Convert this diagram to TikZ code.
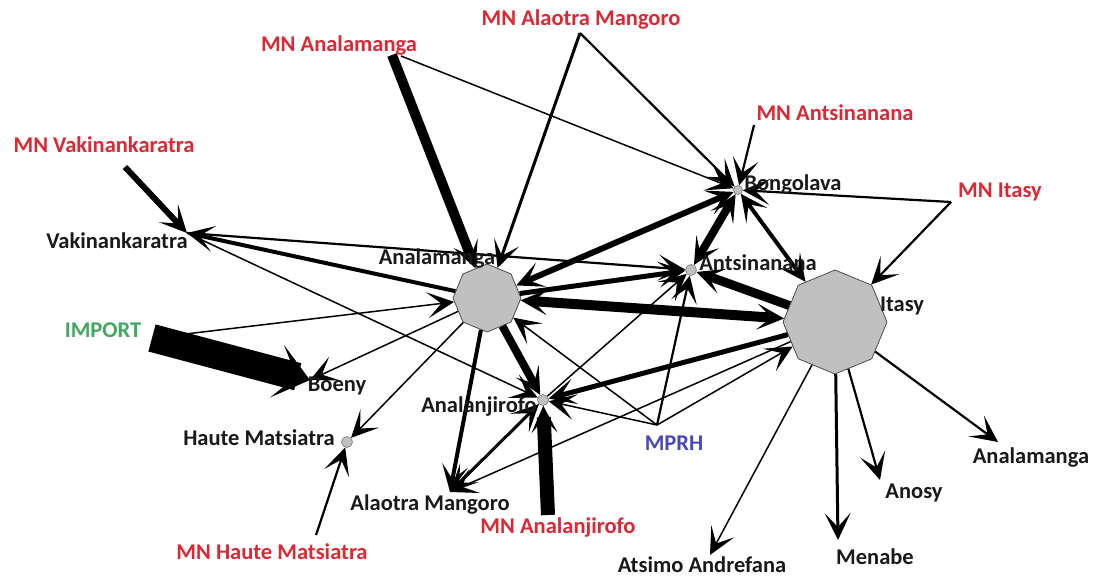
\documentclass[tikz,border=0pt]{standalone}
\usepackage{fontspec}
\setmainfont{Carlito}
\usetikzlibrary{arrows.meta,shapes.geometric}
\definecolor{mnred}{RGB}{221,40,52}
\definecolor{impgreen}{RGB}{64,168,96}
\definecolor{mprhblue}{RGB}{72,72,190}
\definecolor{nodegray}{RGB}{192,192,192}
\definecolor{txt}{RGB}{25,25,25}
\begin{document}
\begin{tikzpicture}[x=1pt,y=-1pt,
  lbl/.style={font=\fontsize{22.5}{26}\selectfont\bfseries, inner sep=0pt, text=txt},
  srclbl/.style={lbl, text=mnred},
  bignode/.style={regular polygon, regular polygon sides=8, shape border rotate=22.5, fill=nodegray, draw=black!70, line width=0.8pt, inner sep=0pt},
  smallnode/.style={circle, fill=nodegray, draw=black!60, line width=0.5pt, minimum size=11pt, inner sep=0pt},
  edge/.style={-{Stealth[length=27pt 0 0, width=26pt 0 0, inset=14pt 0 0]}, line join=miter},
  both/.style={{Stealth[length=27pt 0 0, width=26pt 0 0, inset=14pt 0 0]}-{Stealth[length=27pt 0 0, width=26pt 0 0, inset=14pt 0 0]}, line join=miter},
  bigedge/.style={-{Stealth[length=34pt 0 0, width=54pt 0 0, inset=20pt 0 0]}},
  wa/.style={line width=1.5pt},
  wb/.style={line width=2.2pt},
  wc/.style={line width=3pt},
]
\useasboundingbox (0,0) rectangle (1094,578);

% network nodes
\node[bignode, minimum size=68pt] (anlm) at (487,298) {};
\node[bignode, minimum size=104pt] (itasy) at (835,322) {};
\node[smallnode] (ants) at (691,270) {};
\node[smallnode, minimum size=9pt] (bong) at (738,190) {};
\node[smallnode] (analj) at (543,400) {};
\node[smallnode] (hm) at (347,442) {};
\coordinate (vak) at (187,233);
\coordinate (boeny) at (310,380);
\coordinate (alm) at (450,492);
\coordinate (mprh) at (657,425);
\coordinate (anlm2) at (998,442);
\coordinate (anosy) at (880,480);
\coordinate (menabe) at (838,540);
\coordinate (atsimo) at (710,555);
% source points
\coordinate (s-ala) at (580,33);
\coordinate (s-ana) at (392,55);
\coordinate (s-ana2) at (401,56);
\coordinate (s-ants) at (754,125);
\coordinate (s-vak) at (125,167);
\coordinate (s-itasy) at (951,202);
\coordinate (s-imp) at (152,338);
\coordinate (s-hm) at (316,535);
\coordinate (s-analj) at (548,515);

% edges
\draw[edge, wc] (s-ala) -- (anlm);
\draw[edge, wb] (s-ala) -- (bong);
\draw[edge, line width=10pt] (s-ana) -- (anlm);
\draw[edge, wa] (s-ana2) -- (bong);
\draw[edge, wb] (s-ants) -- (bong);
\draw[edge, wb] (s-itasy) -- (bong);
\draw[edge, wb] (s-itasy) -- (itasy);
\draw[edge, line width=6pt] (s-vak) -- (vak);
\draw[edge, line width=4pt] (anlm) -- (vak);
\draw[edge, wb] (vak) -- (ants);
\draw[edge, wa] (vak) -- (analj);
\draw[bigedge, line width=28pt] (s-imp) -- (boeny);
\draw[edge, wa] (s-imp) -- (anlm);
\draw[edge, wa] (anlm) -- (boeny);
\draw[edge, wa] (anlm) -- (hm);
\draw[edge, wb] (s-hm) -- (hm);
\draw[edge, line width=4pt] (anlm) -- (alm);
\draw[edge, line width=8pt] (anlm) -- (analj);
\draw[edge, line width=14pt] (s-analj) -- (analj);
\draw[both, wc] (analj) -- (alm);
\draw[edge, wa] (itasy) -- (alm);
\draw[edge, line width=5pt] (itasy) -- (analj);
\draw[edge, wa] (mprh) -- (anlm);
\draw[edge, wb] (mprh) -- (ants);
\draw[edge, wa] (mprh) -- (itasy);
\draw[edge, wa] (mprh) -- (analj);
\draw[edge, wa] (analj) -- (ants);
\draw[edge, line width=5pt] (anlm) -- (ants);
\draw[both, line width=10pt] (itasy) -- (anlm);
\draw[both, line width=6pt] (anlm) -- (bong);
\draw[both, line width=8pt] (ants) -- (bong);
\draw[edge, line width=9pt] (itasy) -- (ants);
\draw[both, line width=4pt] (bong) -- (itasy);
\draw[edge, wa] (itasy) -- (atsimo);
\draw[edge, wc] (itasy) -- (menabe);
\draw[edge, wb] (itasy) -- (anosy);
\draw[edge, wb] (itasy) -- (anlm2);

% labels
\node[srclbl] (t-sala) at (581,20) {MN Alaotra Mangoro};
\node[srclbl] (t-sana) at (339,46) {MN Analamanga};
\node[srclbl] (t-sants) at (835,113) {MN Antsinanana};
\node[srclbl] (t-svak) at (104,145) {MN Vakinankaratra};
\node[srclbl] (t-sitasy) at (1000,192) {MN Itasy};
\node[lbl, text=impgreen] (t-imp) at (103,330) {IMPORT};
\node[srclbl] (t-shm) at (272,552) {MN Haute Matsiatra};
\node[srclbl] (t-sanalj) at (558,527) {MN Analanjirofo};
\node[lbl, text=mprhblue] (t-mprh) at (674,443) {MPRH};

\node[lbl] (t-bong) at (793,185) {Bongolava};
\node[lbl] (t-vak) at (117,241) {Vakinankaratra};
\node[lbl] (t-anlm) at (437,259) {Analamanga};
\node[lbl] (t-ants) at (758,263) {Antsinanana};
\node[lbl] (t-itasy) at (902,306) {Itasy};
\node[lbl] (t-boeny) at (337,386) {Boeny};
\node[lbl] (t-analj) at (479,407) {Analanjirofo};
\node[lbl] (t-hm) at (259,438) {Haute Matsiatra};
\node[lbl] (t-alm) at (430,505) {Alaotra Mangoro};
\node[lbl] (t-anlm2) at (1031,458) {Analamanga};
\node[lbl] (t-anosy) at (914,493) {Anosy};
\node[lbl] (t-menabe) at (875,557) {Menabe};
\node[lbl] (t-atsimo) at (702,565) {Atsimo Andrefana};
\end{tikzpicture}
\end{document}
